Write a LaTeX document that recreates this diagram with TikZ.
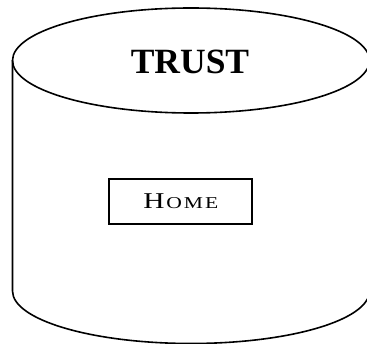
\documentclass[tikz,border=0pt]{standalone}
\usepackage{fontspec}
\setmainfont{Liberation Serif}
\begin{document}
\begin{tikzpicture}[x=1pt,y=1pt,
  cyl/.style={line width=1.6pt},
  boxstyle/.style={draw,line width=2.2pt,minimum width=143pt,minimum height=45pt,inner sep=0pt},
  titletext/.style={font=\fontsize{35.5}{40}\selectfont\bfseries}]
\useasboundingbox (0,0) rectangle (367,343);
% top ellipse
\draw[cyl] (191,282.5) ellipse [x radius=178.5, y radius=52.5];
% sides and bottom arc
\coordinate (tl) at (12.5,282.5);
\coordinate (bl) at (12.5,52);
\coordinate (br) at (369.5,52);
\coordinate (tr) at (369.5,282.5);
\draw[cyl] (tl) -- (bl) arc[start angle=180, end angle=360, x radius=178.5, y radius=52.5] -- (tr);
\node[titletext] (trust) at (190,281.3) {TRUST};
\node[boxstyle] (home) at (180.8,141.6)
  {\scalebox{1.3}[1]{{\fontsize{22.6}{26}\selectfont H}\kern1.5pt{\fontsize{16.6}{20}\selectfont O\kern1.5pt M\kern1.5pt E}}};
\end{tikzpicture}
\end{document}
